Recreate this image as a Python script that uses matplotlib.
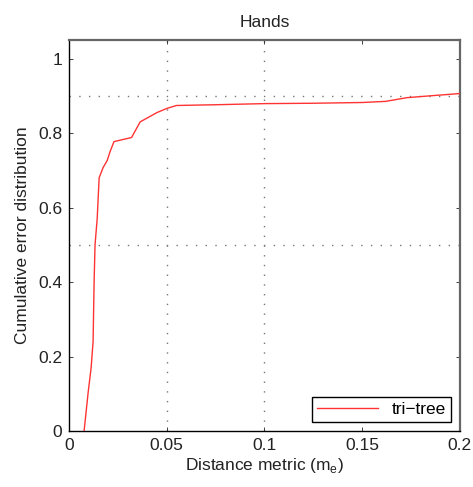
import numpy as np
from matplotlib import pyplot as plt

plt.rcParams['font.family'] = ['Liberation Sans', 'DejaVu Sans']

distance = [0.0077, 0.0097, 0.0113, 0.0123, 0.0128, 0.0133, 0.0144, 0.0154, 0.0174, 0.0195,
            0.021, 0.023, 0.032, 0.0364, 0.045, 0.050, 0.055, 0.075, 0.1, 0.125,
            0.15, 0.162, 0.173, 0.185, 0.2]
cumError = [0.0, 0.1, 0.17, 0.24, 0.395, 0.50, 0.57, 0.68, 0.707, 0.726,
            0.75, 0.777, 0.788, 0.83, 0.855, 0.866, 0.874, 0.876, 0.879, 0.880,
            0.882, 0.885, 0.895, 0.900, 0.906]

xTicks = [0, 0.05, 0.1, 0.15, 0.2]
xTickLabels = ['0', '0.05', '0.1', '0.15', '0.2']
yTicks = [0, 0.2, 0.4, 0.6, 0.8, 1]
yTickLabels = ['0', '0.2', '0.4', '0.6', '0.8', '1']
gridX = [0.05, 0.1]
gridY = [0.5, 0.9]

fs = 12.5

fig = plt.figure(figsize=(4.73, 4.87), dpi=100)
ax = fig.add_axes([0.146, 0.115, 0.826, 0.803])

for gx in gridX:
    ax.axvline(gx, color='#777777', linestyle=(0, (1, 6)), linewidth=1.0, zorder=1)
for gy in gridY:
    ax.axhline(gy, color='#777777', linestyle=(0, (1, 6)), linewidth=1.0, zorder=1)

ax.plot(distance, cumError, color='#ff3333', linewidth=1.0, label='tri\u2212tree', zorder=3)

ax.set_xlim(0, 0.2)
ax.set_ylim(0, 1.05)
ax.set_xticks(xTicks)
ax.set_xticklabels(xTickLabels)
ax.set_yticks(yTicks)
ax.set_yticklabels(yTickLabels)
ax.tick_params(direction='in', top=True, right=True, length=3, width=0.6,
               labelsize=fs, colors='#222222', pad=5)
for side in ['left', 'bottom']:
    ax.spines[side].set_linewidth(1.0)
for side in ['top', 'right']:
    ax.spines[side].set_linewidth(1.6)
    ax.spines[side].set_color('#666666')

ax.set_xlabel('Distance metric (m$_\\mathregular{e}$)', fontsize=fs, color='#222222', labelpad=2)
ax.set_ylabel('Cumulative error distribution', fontsize=fs, color='#222222', labelpad=6)
ax.set_title('Hands', fontsize=fs, color='#222222', pad=9)

leg = ax.legend(loc='lower right', fontsize=fs, fancybox=False, framealpha=1,
                edgecolor='black', handlelength=3.5, borderaxespad=0.5,
                borderpad=0.3)
leg.get_frame().set_linewidth(1.0)

plt.savefig('out.png', dpi=100)
